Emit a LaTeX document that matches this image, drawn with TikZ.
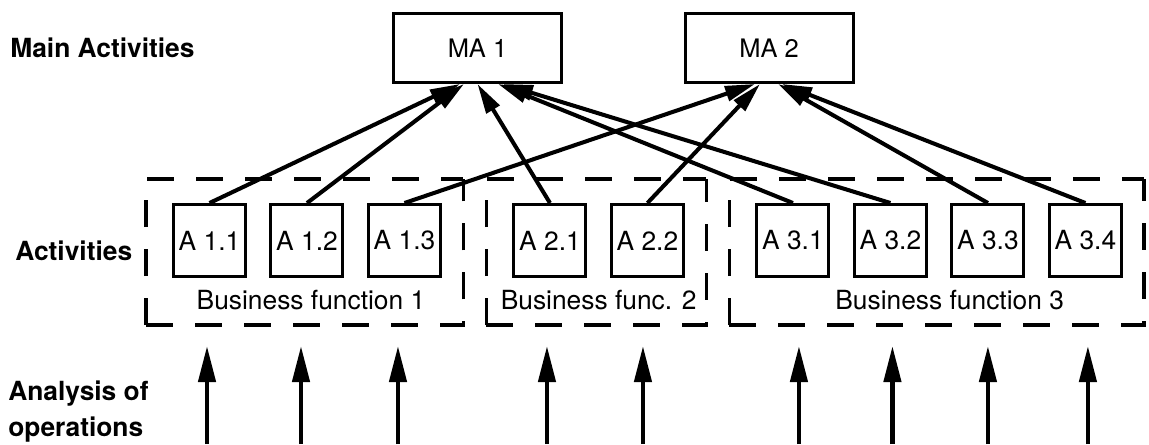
\documentclass[tikz,border=0pt]{standalone}
\usepackage{fontspec}
\setmainfont{TeX Gyre Heros}
\usetikzlibrary{positioning,arrows.meta,calc}

\tikzset{
  mabox/.style={draw, line width=1.7pt, minimum width=3.36cm, minimum height=1.38cm, inner sep=0pt, font=\fontsize{14.5}{16}\selectfont},
  actbox/.style={draw, line width=1.7pt, minimum size=1.44cm, inner sep=0pt, font=\fontsize{15}{18}\selectfont},
  rowlabel/.style={inner sep=0pt, align=left, font=\fontsize{15}{20}\selectfont\bfseries},
  bflabel/.style={inner sep=0pt, anchor=base, font=\fontsize{15}{18}\selectfont},
  bfbox/.style={line width=2.2pt, dash pattern=on 0.54cm off 0.44cm},
  link/.style={line width=2.3pt, -{Triangle[length=0.6cm,width=0.3cm]}},
  feed/.style={line width=2.5pt, -{Triangle[length=0.72cm,width=0.34cm]}}
}

\begin{document}
\begin{tikzpicture}
\useasboundingbox (0,0) rectangle (22.98,-8.88);

% main activities
\node[mabox] (ma1) at (9.55,-0.96) {MA 1};
\node[mabox] (ma2) at (15.38,-0.96) {MA 2};

% activities, grouped by business function
\node[actbox] (a11) at (4.19,-4.81) {A 1.1};
\node[actbox, right=0.45cm of a11] (a12) {A 1.2};
\node[actbox, right=0.45cm of a12] (a13) {A 1.3};
\node[actbox, right=1.41cm of a13] (a21) {A 2.1};
\node[actbox, right=0.45cm of a21] (a22) {A 2.2};
\node[actbox, right=1.41cm of a22] (a31) {A 3.1};
\node[actbox, right=0.45cm of a31] (a32) {A 3.2};
\node[actbox, right=0.45cm of a32] (a33) {A 3.3};
\node[actbox, right=0.45cm of a33] (a34) {A 3.4};

% dashed frames, drawn from the lower left corner
\foreach \first/\last in {a11/a13, a21/a22, a31/a34} {
  \coordinate (sw) at ($(\first.south west)+(-0.52,-0.94)$);
  \coordinate (ne) at ($(\last.north east)+(0.43,0.48)$);
  \draw[bfbox] (sw) |- (ne);
  \draw[bfbox] (sw) -| (ne);
}

\node[bflabel] (bf1) at ($(a12.south)+(0.08,-0.62)$) {Business function 1};
\node[bflabel] (bf2) at ($(a21.south)!0.5!(a22.south)+(0,-0.62)$) {Business func. 2};
\node[bflabel] (bf3) at ($(a32.south)!0.5!(a33.south)+(0.21,-0.62)$) {Business function 3};

% row labels
\node[rowlabel, anchor=base west] (lmain) at (0.2,-1.14) {Main Activities};
\node[rowlabel, anchor=base west] (lact) at (0.3,-5.2) {Activities};
\node[rowlabel, anchor=base west] (lops) at (0.16,-8.72) {Analysis of\\operations};

% activities feed the main activities
\foreach \src/\dst/\dx in {a11/ma1/-0.35, a12/ma1/-0.27, a21/ma1/0, a31/ma1/0.41, a32/ma1/0.51,
                          a13/ma2/-0.28, a22/ma2/-0.18, a33/ma2/0.18, a34/ma2/0.26}
  \draw[link] (\src.north) -- ([xshift=\dx cm]\dst.south);

% analysis of operations
\coordinate (feedbase) at (0,-8.88);
\coordinate (feedtip) at (0,-6.92);
\foreach \act/\dx in {a11/-0.05, a12/-0.12, a13/-0.13, a21/-0.06, a22/-0.09,
                      a31/0.12, a32/0.04, a33/0, a34/0.05}
  \draw[feed] ([xshift=\dx cm]\act |- feedbase) -- ([xshift=\dx cm]\act |- feedtip);
\end{tikzpicture}
\end{document}
